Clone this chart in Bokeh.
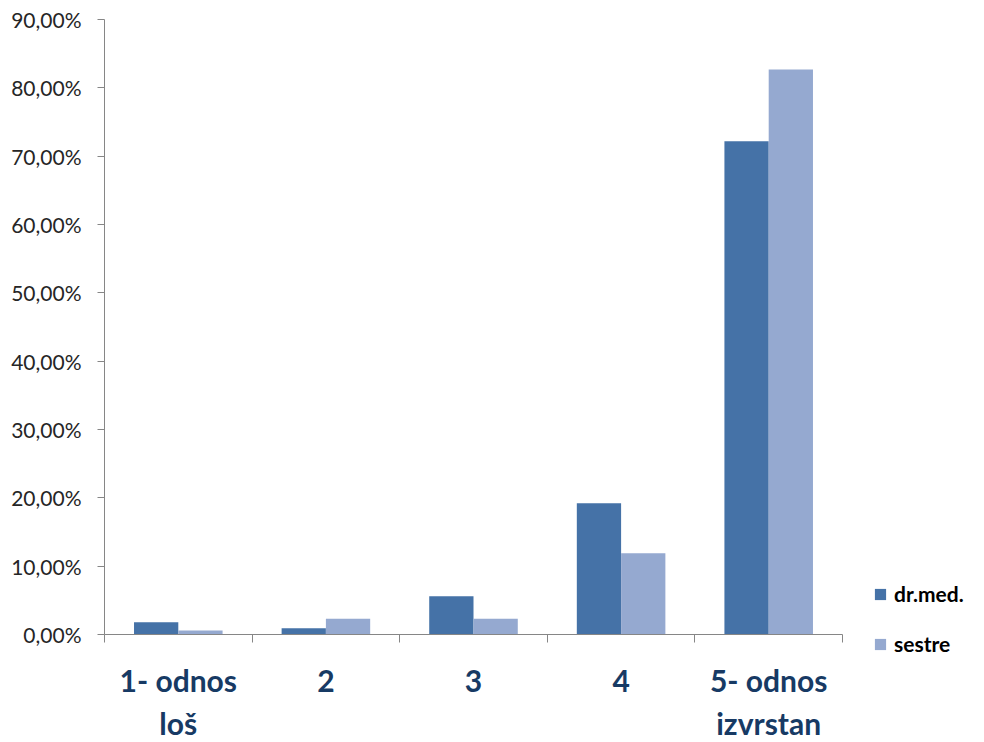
from bokeh.plotting import figure
from bokeh.models import Range1d, FixedTicker, Legend, LegendItem
from bokeh.transform import dodge
from bokeh.models import ColumnDataSource
from bokeh.embed import file_html
from bokeh.resources import INLINE

categories = ["1- odnos\nloš", "2", "3", "4", "5- odnos\nizvrstan"]
dr_med = [1.8, 0.9, 5.6, 19.2, 72.2]
sestre = [0.6, 2.3, 2.3, 11.9, 82.7]
y_ticks = [0, 10, 20, 30, 40, 50, 60, 70, 80, 90]
y_tick_labels = ["0,00%", "10,00%", "20,00%", "30,00%", "40,00%", "50,00%",
                 "60,00%", "70,00%", "80,00%", "90,00%"]

centers = [i + 0.5 for i in range(len(categories))]
bounds = [float(i) for i in range(len(categories) + 1)]

src = ColumnDataSource(dict(x=centers, dr=dr_med, se=sestre))

p = figure(frame_width=738, frame_height=615, output_backend="svg", toolbar_location=None,
           x_range=Range1d(0, 5), y_range=Range1d(0, 90),
           min_border_left=104, min_border_right=134, min_border_top=19,
           min_border_bottom=100)
p.outline_line_color = None
p.xgrid.grid_line_color = None
p.ygrid.grid_line_color = None
p.background_fill_color = "white"
p.border_fill_color = "white"

r1 = p.vbar(x=dodge("x", -0.15, range=p.x_range), top="dr", width=0.3, source=src,
            fill_color="#4572A7", line_color=None)
r2 = p.vbar(x=dodge("x", 0.15, range=p.x_range), top="se", width=0.3, source=src,
            fill_color="#95A9D0", line_color=None)

# x axis
xa = p.xaxis[0]
xa.ticker = FixedTicker(ticks=centers, minor_ticks=bounds)
xa.major_label_overrides = {c: lab for c, lab in zip(centers, categories)}
xa.major_tick_out = 0
xa.major_tick_in = 0
xa.minor_tick_out = 8
xa.minor_tick_in = 0
xa.minor_tick_line_color = "#868686"
xa.axis_line_color = "#868686"
xa.major_label_text_font = "Lato"
xa.major_label_text_font_style = "bold"
xa.major_label_text_font_size = "30px"
xa.major_label_text_color = "#173A64"
xa.major_label_text_line_height = 1.21
xa.major_label_standoff = 19

# y axis
ya = p.yaxis[0]
ya.ticker = FixedTicker(ticks=y_ticks)
ya.major_label_overrides = {t: lab for t, lab in zip(y_ticks, y_tick_labels)}
ya.minor_tick_out = 0
ya.minor_tick_in = 0
ya.major_tick_out = 7
ya.major_tick_in = 0
ya.major_tick_line_color = "#868686"
ya.axis_line_color = "#868686"
ya.major_label_text_font = "Lato"
ya.major_label_text_font_size = "21px"
ya.major_label_text_color = "#262626"
ya.major_label_standoff = 16

legend = Legend(items=[LegendItem(label="dr.med.", renderers=[r1]),
                       LegendItem(label="sestre", renderers=[r2])],
                location=(31, -22), orientation="vertical",
                border_line_color=None, background_fill_alpha=0,
                padding=0, margin=0, spacing=25,
                glyph_width=14, glyph_height=14, label_height=24,
                label_standoff=7,
                label_text_font="Lato", label_text_font_style="bold",
                label_text_font_size="21px", label_text_color="#000000")
p.add_layout(legend, "right")

open("out.html", "w").write(file_html(p, INLINE))
